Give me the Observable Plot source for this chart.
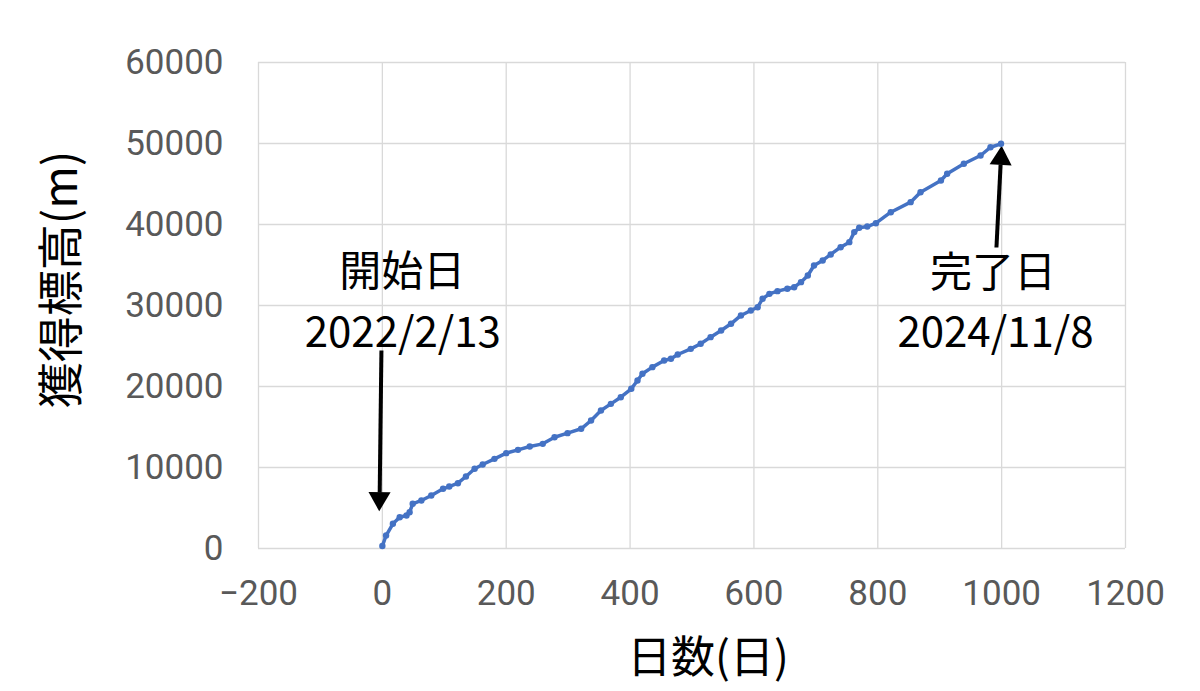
<!DOCTYPE html>
<html>
<head>
<meta charset="utf-8">
<script src="https://cdn.jsdelivr.net/npm/d3@7"></script>
<script src="https://cdn.jsdelivr.net/npm/@observablehq/plot@0.6"></script>
<style>
  body { margin: 0; background: #fff; }
</style>
</head>
<body>
<div id="chart"></div>
<script>
// 日数 (days since 2022/2/13) and cumulative gain in metres
const days = [0, 6, 17, 28, 39, 44, 49, 63, 79, 98, 108, 122, 135, 149, 162, 181, 200, 219, 238, 259,
  278, 299, 321, 337, 353, 369, 385, 402, 412, 420, 436, 455, 466, 477, 498, 514, 530, 547, 563, 579,
  595, 606, 614, 625, 638, 654, 665, 676, 687, 697, 711, 724, 740, 754, 762, 770, 783, 797, 821, 853,
  869, 902, 912, 939, 966, 982, 999];
const gains = [300, 1600, 3050, 3860, 4070, 4480, 5520, 5930, 6540, 7370, 7650, 8060, 8890, 9840, 10370, 11070, 11770, 12180, 12590, 12920,
  13740, 14240, 14780, 15800, 17040, 17860, 18680, 19720, 20740, 21570, 22390, 23210, 23420, 23950, 24650, 25270, 26090, 26910, 27740, 28770,
  29380, 29790, 30830, 31440, 31770, 32060, 32260, 32880, 33700, 34940, 35560, 36300, 37200, 37820, 39060, 39590, 39750, 40160, 41520, 42760,
  43990, 45430, 46260, 47500, 48520, 49540, 49960];

const xTicks = [-200, 0, 200, 400, 600, 800, 1000, 1200];
const yTicks = [0, 10000, 20000, 30000, 40000, 50000, 60000];

// annotation labels (in data units)
const notes = [
  {x: 32, y: 34070, text: "開始日"},
  {x: 33, y: 26540, text: "2022/2/13"},
  {x: 986, y: 33950, text: "完了日"},
  {x: 990, y: 26540, text: "2024/11/8"}
];
// arrows: tail (x1,y1), shaft end (x2,y2), head centre (hx,hy)
const arrows = [
  {x1: -1.5, y1: 24440, x2: -4.3, y2: 6900, hx: -4.7, hy: 6170, angle: 181},
  {x1: 991.6, y1: 37160, x2: 998.3, y2: 47400, hx: 998.9, hy: 48150, angle: 3}
];

const series = days.map((d, i) => ({day: d, gain: gains[i]}));

const jp = "Noto Sans CJK JP";
const grid = "#d9d9d9";
const blue = "#4472c4";
const num = (d) => (d < 0 ? "\u2212" + -d : String(d));

const plot = Plot.plot({
  width: 1200,
  height: 691,
  marginLeft: 258,
  marginRight: 75,
  marginTop: 62,
  marginBottom: 143,
  x: {domain: [-200, 1200]},
  y: {domain: [0, 60000]},
  style: {background: "#fff", overflow: "visible"},
  marks: [
    Plot.gridX(xTicks, {stroke: grid, strokeOpacity: 1, strokeWidth: 1.3}),
    Plot.gridY(yTicks, {stroke: grid, strokeOpacity: 1, strokeWidth: 1.3}),
    Plot.axisX({ticks: xTicks, tickSize: 0, tickPadding: 32, label: null, tickFormat: num,
      fontSize: 35, fontFamily: "Roboto", fill: "#595959"}),
    Plot.axisY({ticks: yTicks, tickSize: 0, tickPadding: 35, label: null, tickFormat: num,
      fontSize: 35, fontFamily: "Roboto", fill: "#595959"}),
    Plot.text(notes, {x: "x", y: "y", text: "text", fontSize: 42, fontFamily: jp, fill: "#000"}),
    Plot.link(arrows, {x1: "x1", y1: "y1", x2: "x2", y2: "y2", stroke: "#000", strokeWidth: 4}),
    Plot.dot(arrows, {x: "hx", y: "hy", symbol: "triangle", r: 8.2, fill: "#000", rotate: "angle"}),
    Plot.line(series, {x: "day", y: "gain", stroke: blue, strokeWidth: 3.5}),
    Plot.dot(series, {x: "day", y: "gain", r: 3.2, fill: blue}),
    Plot.text(["日数(日)"], {frameAnchor: "bottom", dx: 16, dy: 110, textAnchor: "middle",
      lineAnchor: "middle", fontSize: 44, fontFamily: jp, fill: "#000"}),
    Plot.text(["獲得標高(m)"], {frameAnchor: "left", dx: -196, dy: -26, rotate: -90,
      textAnchor: "middle", lineAnchor: "middle", fontSize: 46, fontFamily: jp, fill: "#000"})
  ]
});

document.querySelector("#chart").append(plot);
</script>
</body>
</html>
